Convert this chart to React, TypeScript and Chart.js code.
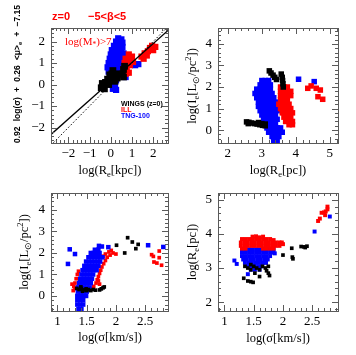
import React, { useEffect, useRef } from "react";
import { Chart, registerables } from "chart.js";
Chart.register(...registerables);

type P = [number, number];

// ---------- Panel 1: FP projection vs log(Re[kpc]) ----------
const p1Black: P[] = [
  [-0.45, -0.15], [-0.4, 0.05], [-0.3, -0.2], [-0.25, 0.1], [-0.15, 0.25], [-0.1, 0.0],
  [0.0, 0.3], [0.05, 0.5], [0.1, 0.65], [0.15, 0.35], [0.25, 0.5], [0.3, 0.3],
  [0.55, 0.5], [0.6, 0.7], [0.65, 0.85], [0.6, 0.35], [-0.05, 0.45], [0.2, 0.15],
];
const p1Red: P[] = [
  [0.55, 0.45], [0.7, 0.5], [0.85, 0.55], [0.6, 0.7], [0.75, 0.8], [0.9, 0.9], [0.65, 1.0],
  [0.8, 1.1], [0.95, 1.25], [0.7, 1.2], [0.85, 1.4], [1.0, 1.3], [1.05, 1.05],
  [1.45, 1.3], [1.55, 1.2], [1.6, 1.45], [1.75, 1.55], [1.85, 1.7], [1.95, 1.8],
  [2.0, 1.6], [2.1, 1.75], [1.7, 1.35],
];
const p1Blue: P[] = [
  [0.35, 2.15], [0.5, 2.1], [0.25, 2.0], [0.4, 2.0], [0.55, 1.95],
  [0.15, 1.8], [0.3, 1.8], [0.45, 1.8], [0.55, 1.75],
  [0.05, 1.6], [0.2, 1.6], [0.35, 1.6], [0.5, 1.6],
  [0.0, 1.4], [0.15, 1.4], [0.3, 1.4], [0.45, 1.4], [0.6, 1.45],
  [-0.05, 1.2], [0.1, 1.2], [0.25, 1.2], [0.4, 1.2], [0.55, 1.2],
  [-0.1, 1.0], [0.05, 1.0], [0.2, 1.0], [0.35, 1.0], [0.5, 1.0],
  [-0.15, 0.8], [0.0, 0.8], [0.15, 0.8], [0.3, 0.8], [0.45, 0.8],
  [-0.1, 0.6], [0.05, 0.6], [0.2, 0.6], [0.35, 0.6],
  [0.0, 0.4], [0.15, 0.4], [0.3, 0.4], [0.1, 0.2], [0.25, 0.2],
  [0.05, 0.0], [0.2, 0.0], [0.1, -0.2], [0.25, -0.25],
  [1.15, 0.9], [1.3, 0.95], [0.7, 0.35], [0.75, 0.55],
];
const p1LineX = [-2.82, 2.7];
const p1FitY = [-2.32, 2.52];
const p1OneToOneY = [-2.82, 2.7];

// ---------- Panel 2: log(Ie) vs log(Re[pc]) ----------
const p2Black: P[] = [
  [3.22, 2.75], [3.27, 2.65], [3.33, 2.55], [3.38, 2.45], [3.43, 2.35],
  [3.57, 2.6], [3.6, 2.45], [3.61, 2.3], [3.62, 2.15], [3.63, 2.0],
  [2.55, 0.38], [2.62, 0.36], [2.7, 0.33], [2.78, 0.3], [2.86, 0.28], [2.94, 0.25],
  [3.02, 0.22], [3.1, 0.2], [2.6, 0.3], [2.9, 0.35], [3.0, 0.3], [3.1, 0.28],
];
const p2Red: P[] = [
  [3.55, 2.0], [3.65, 2.0], [3.75, 2.0],
  [3.55, 1.8], [3.65, 1.8], [3.75, 1.8], [3.85, 1.8],
  [3.55, 1.6], [3.65, 1.6], [3.75, 1.6], [3.85, 1.6],
  [3.55, 1.4], [3.65, 1.4], [3.75, 1.4],
  [3.5, 1.2], [3.6, 1.2], [3.7, 1.2], [3.8, 1.2],
  [3.55, 1.0], [3.65, 1.0], [3.75, 1.0], [3.85, 1.0],
  [3.6, 0.8], [3.7, 0.8], [3.8, 0.8], [3.9, 0.8],
  [3.65, 0.6], [3.75, 0.6], [3.85, 0.6],
  [3.7, 0.4], [3.8, 0.4], [3.9, 0.4], [3.8, 0.25], [3.9, 0.25],
  [4.35, 1.94], [4.45, 2.05], [4.6, 1.94], [4.72, 1.86], [4.65, 1.55], [4.79, 1.43],
];
const p2Blue: P[] = [
  [3.0, 2.3], [3.1, 2.3], [3.2, 2.3],
  [2.95, 2.1], [3.05, 2.1], [3.15, 2.1], [3.25, 2.1],
  [2.85, 1.9], [2.95, 1.9], [3.05, 1.9], [3.15, 1.9], [3.25, 1.9],
  [2.8, 1.7], [2.9, 1.7], [3.0, 1.7], [3.1, 1.7], [3.2, 1.7], [3.3, 1.7],
  [2.85, 1.5], [2.95, 1.5], [3.05, 1.5], [3.15, 1.5], [3.25, 1.5], [3.35, 1.5],
  [2.9, 1.3], [3.0, 1.3], [3.1, 1.3], [3.2, 1.3], [3.3, 1.3], [3.4, 1.3],
  [2.9, 1.1], [3.0, 1.1], [3.1, 1.1], [3.2, 1.1], [3.3, 1.1], [3.4, 1.1],
  [2.95, 0.9], [3.05, 0.9], [3.15, 0.9], [3.25, 0.9], [3.35, 0.9], [3.45, 0.9],
  [3.0, 0.7], [3.1, 0.7], [3.2, 0.7], [3.3, 0.7], [3.4, 0.7],
  [3.05, 0.5], [3.15, 0.5], [3.25, 0.5], [3.35, 0.5], [3.45, 0.5],
  [3.1, 0.3], [3.2, 0.3], [3.3, 0.3], [3.4, 0.3],
  [3.15, 0.1], [3.25, 0.1], [3.35, 0.1], [3.45, 0.1], [3.55, 0.1],
  [3.2, -0.1], [3.3, -0.1], [3.4, -0.1], [3.5, -0.1], [3.6, -0.1],
  [3.3, -0.3], [3.4, -0.3], [3.5, -0.3], [3.35, -0.5], [3.45, -0.5], [3.4, -0.6],
  [4.08, 2.36], [4.54, 2.25],
];

// ---------- Panel 3: log(Ie) vs log(sigma) ----------
const p3Black: P[] = [
  [1.33, 0.35], [1.37, 0.3], [1.41, 0.35], [1.45, 0.28], [1.49, 0.33], [1.53, 0.3],
  [1.57, 0.25], [1.61, 0.3], [1.65, 0.27], [1.4, 0.42], [1.5, 0.25], [1.72, 0.28],
  [1.75, 0.33], [1.78, 0.38], [1.8, 0.42], [1.43, 0.22],
  [2.01, 2.36], [2.15, 2.0], [2.2, 2.71], [2.28, 2.51], [2.34, 2.2], [2.38, 2.4],
];
const p3Red: P[] = [
  [1.27, 0.25], [1.28, 0.45], [1.3, 0.6], [1.32, 0.8], [1.34, 1.0], [1.3, 0.35], [1.36, 1.15], [1.25, 0.55],
  [1.62, 0.45], [1.66, 0.6], [1.68, 0.75], [1.7, 0.9], [1.72, 1.05], [1.74, 1.2], [1.76, 1.35],
  [1.79, 1.5], [1.82, 1.65], [1.85, 1.8], [1.9, 1.9], [1.95, 2.0], [1.88, 2.05], [1.82, 1.95],
  [2.0, 1.95], [1.92, 2.12], [1.78, 1.85], [1.72, 0.55], [1.7, 0.7],
  [2.61, 1.92], [2.64, 1.84], [2.74, 2.09], [2.74, 1.78], [2.65, 1.58], [2.7, 1.53], [2.78, 1.43],
];
const p3Blue: P[] = [
  [1.36, -0.6], [1.41, -0.6],
  [1.34, -0.4], [1.39, -0.4], [1.44, -0.4],
  [1.34, -0.2], [1.39, -0.2], [1.44, -0.2],
  [1.34, 0.0], [1.39, 0.0], [1.44, 0.0], [1.49, 0.0],
  [1.35, 0.2], [1.4, 0.2], [1.45, 0.2], [1.5, 0.2],
  [1.35, 0.4], [1.4, 0.4], [1.45, 0.4], [1.5, 0.4], [1.55, 0.4],
  [1.37, 0.6], [1.42, 0.6], [1.47, 0.6], [1.52, 0.6], [1.57, 0.6],
  [1.39, 0.8], [1.44, 0.8], [1.49, 0.8], [1.54, 0.8], [1.59, 0.8],
  [1.41, 1.0], [1.46, 1.0], [1.51, 1.0], [1.56, 1.0], [1.61, 1.0],
  [1.43, 1.2], [1.48, 1.2], [1.53, 1.2], [1.58, 1.2], [1.63, 1.2], [1.67, 1.2],
  [1.46, 1.4], [1.51, 1.4], [1.56, 1.4], [1.61, 1.4], [1.66, 1.4], [1.7, 1.4],
  [1.49, 1.6], [1.54, 1.6], [1.59, 1.6], [1.64, 1.6], [1.69, 1.6], [1.73, 1.6],
  [1.53, 1.8], [1.58, 1.8], [1.63, 1.8], [1.68, 1.8], [1.73, 1.8], [1.77, 1.8],
  [1.57, 2.0], [1.62, 2.0], [1.67, 2.0], [1.72, 2.0], [1.64, 2.15], [1.7, 2.15],
  [1.21, 2.17], [1.3, 1.95], [1.18, 1.49], [1.71, 2.33], [1.76, 2.3], [1.87, 2.27],
  [2.55, 2.36], [2.81, 2.28],
];

// ---------- Panel 4: log(Re[pc]) vs log(sigma) ----------
const p4Black: P[] = [
  [1.35, 3.05], [1.4, 3.0], [1.45, 2.95], [1.5, 3.05], [1.55, 3.0], [1.6, 2.95], [1.65, 3.05],
  [1.7, 3.0], [1.72, 2.92], [1.75, 2.85], [1.77, 2.78], [1.75, 3.05], [1.45, 3.1],
  [1.33, 2.7], [1.4, 2.62], [1.45, 2.6], [1.49, 2.58], [1.6, 2.75], [1.52, 2.85],
  [2.0, 3.38], [2.15, 3.58], [2.16, 3.32], [2.17, 3.27], [2.31, 3.63], [2.36, 3.62], [2.41, 3.64], [2.38, 3.6],
];
const p4Red: P[] = [
  [1.48, 3.92], [1.54, 3.93], [1.6, 3.9], [1.66, 3.92],
  [1.3, 3.85], [1.36, 3.85], [1.42, 3.85], [1.48, 3.85], [1.54, 3.85], [1.6, 3.85], [1.66, 3.85], [1.72, 3.85], [1.78, 3.85], [1.84, 3.82],
  [1.28, 3.75], [1.34, 3.75], [1.4, 3.75], [1.46, 3.75], [1.52, 3.75], [1.58, 3.75], [1.64, 3.75], [1.7, 3.75], [1.76, 3.75], [1.82, 3.75], [1.88, 3.75], [1.94, 3.75],
  [1.28, 3.65], [1.34, 3.65], [1.4, 3.65], [1.46, 3.65], [1.52, 3.65], [1.58, 3.65], [1.64, 3.65], [1.7, 3.65], [1.76, 3.65], [1.82, 3.65], [1.88, 3.65], [1.94, 3.65],
  [1.3, 3.57], [1.36, 3.57], [1.66, 3.57], [1.72, 3.57], [1.78, 3.57], [1.84, 3.57], [1.98, 3.75], [2.0, 3.7],
  [2.6, 4.38], [2.63, 4.45], [2.66, 4.62], [2.7, 4.63], [2.73, 4.66], [2.72, 4.55], [2.76, 4.8], [2.76, 4.72],
];
const p4Blue: P[] = [
  [1.3, 3.55], [1.36, 3.55], [1.42, 3.55], [1.48, 3.55], [1.54, 3.55], [1.6, 3.55], [1.66, 3.55], [1.72, 3.55], [1.78, 3.55], [1.84, 3.55],
  [1.3, 3.45], [1.36, 3.45], [1.42, 3.45], [1.48, 3.45], [1.54, 3.45], [1.6, 3.45], [1.66, 3.45], [1.72, 3.45], [1.78, 3.45], [1.84, 3.45],
  [1.3, 3.35], [1.36, 3.35], [1.42, 3.35], [1.48, 3.35], [1.54, 3.35], [1.6, 3.35], [1.66, 3.35], [1.72, 3.35], [1.78, 3.35],
  [1.32, 3.25], [1.38, 3.25], [1.44, 3.25], [1.5, 3.25], [1.56, 3.25], [1.62, 3.25], [1.68, 3.25], [1.74, 3.25],
  [1.35, 3.15], [1.41, 3.15], [1.47, 3.15], [1.53, 3.15], [1.59, 3.15], [1.65, 3.15], [1.71, 3.15],
  [1.4, 3.05], [1.46, 3.05], [1.52, 3.05], [1.58, 3.05], [1.64, 3.05], [1.45, 2.95], [1.52, 2.95], [1.6, 2.95],
  [1.17, 3.22], [1.21, 3.12], [1.4, 2.82], [1.86, 3.43], [2.54, 4.07], [2.8, 4.51], [1.67, 3.53],
];

const W = 356;
const H = 355;
const RED = "#ff0000";
const BLUE = "#0000ff";
const BLACK = "#000000";
const SERIF = "'Liberation Serif', serif";
const SANS = "'Liberation Sans', sans-serif";

type Part = [string, number]; // 0 normal, 1 subscript, 2 superscript

function partsWidth(ctx: CanvasRenderingContext2D, parts: Part[], size: number, family: string, weight: string) {
  let total = 0;
  parts.forEach(([t, m]) => {
    ctx.font = `${weight} ${m ? size * 0.68 : size}px ${family}`;
    total += ctx.measureText(t).width;
  });
  return total;
}

function drawParts(ctx: CanvasRenderingContext2D, parts: Part[], x0: number, size: number, family: string, weight: string) {
  let cx = x0;
  parts.forEach(([t, m]) => {
    ctx.font = `${weight} ${m ? size * 0.68 : size}px ${family}`;
    const dy = m === 1 ? size * 0.3 : m === 2 ? -size * 0.35 : 0;
    ctx.fillText(t, cx, dy);
    cx += ctx.measureText(t).width;
  });
  return cx;
}

function drawRich(
  ctx: CanvasRenderingContext2D, parts: Part[], x: number, y: number,
  size: number, family: string, weight: string, color: string,
  rotate: boolean, align: "left" | "center"
) {
  ctx.save();
  ctx.translate(x, y);
  if (rotate) ctx.rotate(-Math.PI / 2);
  const total = partsWidth(ctx, parts, size, family, weight);
  ctx.fillStyle = color;
  ctx.textBaseline = "middle";
  ctx.textAlign = "left";
  drawParts(ctx, parts, align === "center" ? -total / 2 : 0, size, family, weight);
  ctx.restore();
}

// words spread evenly over a given length (rotated, reading upward)
function drawSpread(
  ctx: CanvasRenderingContext2D, words: Part[][], x: number, y: number, length: number,
  size: number, family: string, weight: string, color: string
) {
  ctx.save();
  ctx.translate(x, y);
  ctx.rotate(-Math.PI / 2);
  ctx.fillStyle = color;
  ctx.textBaseline = "middle";
  ctx.textAlign = "left";
  const ws = words.map((w) => partsWidth(ctx, w, size, family, weight));
  const sum = ws.reduce((a, b) => a + b, 0);
  const gap = (length - sum) / (words.length - 1);
  let cx = 0;
  words.forEach((w, i) => {
    drawParts(ctx, w, cx, size, family, weight);
    cx += ws[i] + gap;
  });
  ctx.restore();
}

interface SetDef { data: P[]; color: string; r: number }
interface LineDef { x: number[]; y: number[]; dash: number[]; width: number }
interface PanelDef {
  box: [number, number, number, number];
  x: [number, number, number, number];
  y: [number, number, number, number];
  sets: SetDef[];
  lines: LineDef[];
  decorate: (ctx: CanvasRenderingContext2D) => void;
}

const TITLE = 12.5;
const IE_TITLE: Part[] = [["log(I", 0], ["e", 1], ["[L", 0], ["\u2299", 1], ["/pc", 0], ["2", 2], ["])", 0]];
const SIGMA_TITLE: Part[] = [["log(\u03c3[km/s])", 0]];
const FP_TITLE: Part[][] = [
  [["0.92", 0]], [["log(\u03c3)", 0]], [["+", 0]], [["0.26", 0]],
  [["<\u03bc>", 0], ["e", 1]], [["+", 0]], [["\u22127.15", 0]],
];

const PANELS: PanelDef[] = [
  {
    box: [51, 28, 168, 143],
    x: [-2.82, 2.7, 1, 0.2],
    y: [-2.72, 2.63, 1, 0.2],
    sets: [
      { data: p1Black, color: BLACK, r: 4.8 },
      { data: p1Red, color: RED, r: 4.4 },
      { data: p1Blue, color: BLUE, r: 4.4 },
    ],
    lines: [
      { x: p1LineX, y: p1FitY, dash: [], width: 1.3 },
      { x: p1LineX, y: p1OneToOneY, dash: [1.5, 2], width: 1 },
    ],
    decorate: (ctx) => {
      drawRich(ctx, [["z=0", 0]], 52, 17, 11, SANS, "bold", RED, false, "left");
      drawRich(ctx, [["\u22125<\u03b2<5", 0]], 88, 17, 11, SANS, "bold", RED, false, "left");
      drawRich(ctx, [["log(M", 0], ["*", 1], [")>7", 0]], 65, 42, 11, SERIF, "normal", RED, false, "left");
      drawRich(ctx, [["WINGS (z=0)", 0]], 121, 104, 7, SANS, "bold", BLACK, false, "left");
      drawRich(ctx, [["ILL", 0]], 121, 110, 7, SANS, "bold", RED, false, "left");
      drawRich(ctx, [["TNG-100", 0]], 121, 116, 7, SANS, "bold", BLUE, false, "left");
      drawRich(ctx, [["log(R", 0], ["e", 1], ["[kpc])", 0]], 110, 171, TITLE, SERIF, "normal", BLACK, false, "center");
      drawSpread(ctx, FP_TITLE, 18, 143, 138, 8.5, SANS, "bold", BLACK);
    },
  },
  {
    box: [218, 28, 338, 143],
    x: [1.71, 5.24, 1, 0.2],
    y: [-0.6, 4.74, 1, 0.2],
    sets: [
      { data: p2Black, color: BLACK, r: 3.9 },
      { data: p2Red, color: RED, r: 3.9 },
      { data: p2Blue, color: BLUE, r: 3.9 },
    ],
    lines: [],
    decorate: (ctx) => {
      drawRich(ctx, [["log(R", 0], ["e", 1], ["[pc])", 0]], 278, 171, TITLE, SERIF, "normal", BLACK, false, "center");
      drawRich(ctx, IE_TITLE, 193, 86, TITLE, SERIF, "normal", BLACK, true, "center");
    },
  },
  {
    box: [51, 193, 168, 311],
    x: [0.89, 2.89, 0.5, 0.1],
    y: [-0.7, 4.79, 1, 0.2],
    sets: [
      { data: p3Black, color: BLACK, r: 2.6 },
      { data: p3Blue, color: BLUE, r: 3.2 },
      { data: p3Red, color: RED, r: 2.6 },
    ],
    lines: [],
    decorate: (ctx) => {
      drawRich(ctx, SIGMA_TITLE, 110, 338, TITLE, SERIF, "normal", BLACK, false, "center");
      drawRich(ctx, IE_TITLE, 25, 252, TITLE, SERIF, "normal", BLACK, true, "center");
    },
  },
  {
    box: [218, 193, 338, 311],
    x: [0.89, 2.94, 0.5, 0.1],
    y: [1.74, 5.2, 1, 0.2],
    sets: [
      { data: p4Black, color: BLACK, r: 2.6 },
      { data: p4Red, color: RED, r: 2.8 },
      { data: p4Blue, color: BLUE, r: 2.8 },
    ],
    lines: [],
    decorate: (ctx) => {
      drawRich(ctx, SIGMA_TITLE, 278, 339, TITLE, SERIF, "normal", BLACK, false, "center");
      drawRich(ctx, [["log(R", 0], ["e", 1], ["[pc])", 0]], 193, 252, TITLE, SERIF, "normal", BLACK, true, "center");
    },
  },
];

const YW = 40;
const XH = 40;
const FRAME = "#5a5a5a";

function fmt(v: number | string) {
  const n = Number(v);
  return String(Math.round(n * 100) / 100).replace("-", "\u2212");
}

function majorTicks(min: number, max: number, step: number) {
  const out: { value: number }[] = [];
  const s = Math.ceil(min / step - 1e-6);
  const e = Math.floor(max / step + 1e-6);
  for (let k = s; k <= e; k++) out.push({ value: Math.round(k * step * 1000) / 1000 });
  return out;
}

function makeChart(canvas: HTMLCanvasElement, p: PanelDef) {
  const [L, T, R, B] = p.box;
  const datasets: any[] = [];
  p.lines.forEach((ln) => {
    datasets.push({
      type: "line",
      data: ln.x.map((x, i) => ({ x, y: ln.y[i] })),
      borderColor: BLACK,
      borderWidth: ln.width,
      borderDash: ln.dash,
      pointRadius: 0,
      fill: false,
      tension: 0,
    });
  });
  p.sets.forEach((s) => {
    datasets.push({
      type: "scatter",
      data: s.data.map(([x, y]) => ({ x, y })),
      pointStyle: "rect",
      pointRadius: s.r,
      backgroundColor: s.color,
      borderColor: s.color,
      borderWidth: 0,
    });
  });
  const frame = {
    id: "frame",
    afterDraw(chart: any) {
      const ctx: CanvasRenderingContext2D = chart.ctx;
      const xs = chart.scales.x;
      const ys = chart.scales.y;
      const ca = chart.chartArea;
      ctx.save();
      ctx.strokeStyle = FRAME;
      ctx.lineWidth = 1;
      ctx.strokeRect(Math.round(ca.left) + 0.5, Math.round(ca.top) + 0.5, Math.round(ca.right - ca.left), Math.round(ca.bottom - ca.top));
      const drawTicks = (min: number, max: number, major: number, minor: number, horiz: boolean) => {
        const start = Math.ceil(min / minor - 1e-6);
        const end = Math.floor(max / minor + 1e-6);
        ctx.beginPath();
        for (let k = start; k <= end; k++) {
          const v = k * minor;
          const isMajor = Math.abs(v / major - Math.round(v / major)) < 1e-6;
          const len = isMajor ? 6 : 3;
          if (horiz) {
            const px = Math.round(xs.getPixelForValue(v)) + 0.5;
            ctx.moveTo(px, ca.bottom); ctx.lineTo(px, ca.bottom - len);
            ctx.moveTo(px, ca.top); ctx.lineTo(px, ca.top + len);
          } else {
            const py = Math.round(ys.getPixelForValue(v)) + 0.5;
            ctx.moveTo(ca.left, py); ctx.lineTo(ca.left + len, py);
            ctx.moveTo(ca.right, py); ctx.lineTo(ca.right - len, py);
          }
        }
        ctx.stroke();
      };
      drawTicks(p.x[0], p.x[1], p.x[2], p.x[3], true);
      drawTicks(p.y[0], p.y[1], p.y[2], p.y[3], false);
      ctx.restore();
      p.decorate(ctx);
    },
  };
  const tickFont = { family: SERIF, size: 13 };
  return new Chart(canvas, {
    type: "scatter",
    data: { datasets },
    options: {
      animation: false,
      responsive: false,
      devicePixelRatio: 1,
      layout: { padding: { left: L - YW, top: T, right: W - R, bottom: H - B - XH } },
      plugins: { legend: { display: false }, tooltip: { enabled: false } },
      scales: {
        x: {
          type: "linear", min: p.x[0], max: p.x[1],
          ticks: { padding: 3, font: tickFont, color: BLACK, maxRotation: 0, autoSkip: false, callback: fmt },
          grid: { display: false, drawTicks: false },
          border: { display: false },
          afterBuildTicks: (s: any) => { s.ticks = majorTicks(p.x[0], p.x[1], p.x[2]); },
          afterFit: (s: any) => { s.height = XH; },
        },
        y: {
          type: "linear", min: p.y[0], max: p.y[1],
          ticks: { padding: 6, font: tickFont, color: BLACK, autoSkip: false, callback: fmt },
          grid: { display: false, drawTicks: false },
          border: { display: false },
          afterBuildTicks: (s: any) => { s.ticks = majorTicks(p.y[0], p.y[1], p.y[2]); },
          afterFit: (s: any) => { s.width = YW; },
        },
      },
    } as any,
    plugins: [frame],
  } as any);
}

export default function App() {
  const r0 = useRef<HTMLCanvasElement>(null);
  const r1 = useRef<HTMLCanvasElement>(null);
  const r2 = useRef<HTMLCanvasElement>(null);
  const r3 = useRef<HTMLCanvasElement>(null);
  const refs = [r0, r1, r2, r3];
  useEffect(() => {
    const charts = PANELS.map((p, i) => makeChart(refs[i].current as HTMLCanvasElement, p));
    return () => charts.forEach((c) => c.destroy());
  }, []);
  return (
    <div style={{ position: "absolute", left: 0, top: 0, width: W, height: H, background: "#fff" }}>
      {PANELS.map((_, i) => (
        <canvas key={i} ref={refs[i]} width={W} height={H}
          style={{ position: "absolute", left: 0, top: 0, width: W, height: H }} />
      ))}
    </div>
  );
}
